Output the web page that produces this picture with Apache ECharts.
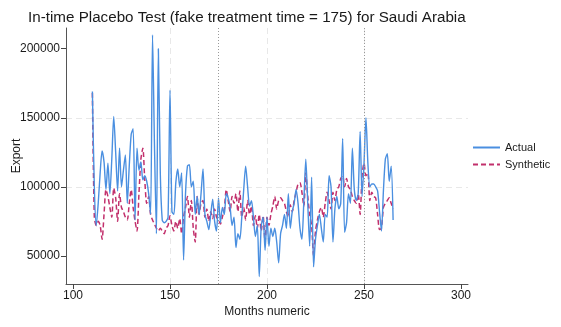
<!DOCTYPE html>
<html>
<head>
<meta charset="utf-8">
<script src="https://cdn.jsdelivr.net/npm/echarts@6/dist/echarts.min.js"></script>
<style>
  html, body { margin: 0; padding: 0; background: #ffffff; }
  #chart { width: 561px; height: 327px; }
</style>
</head>
<body>
<div id="chart"></div>
<script>
// Monthly exports, Saudi Arabia: observed vs. synthetic control (months 110-265)
const firstMonth = 110;

const actualExport = [
  169000, 100000, 72000, 88000, 110000, 126000, 118000, 98000, 117000, 95000,
  120000, 151000, 125000, 97000, 128000, 100000, 112000, 123000, 88000, 115000,
  138000, 142000, 76000, 128000, 112000, 118000, 105000, 108000, 104000, 95000,
  80000, 210000, 130000, 66000, 200000, 110000, 76000, 74000, 75000, 78000,
  170000, 82000, 80000, 103000, 113000, 100000, 110000, 47000, 95000, 115000,
  116000, 100000, 104000, 80000, 93000, 80000, 95000, 113000, 80000, 75000,
  69000, 80000, 91000, 75000, 68000, 92000, 74000, 85000, 80000, 95000,
  92000, 85000, 72000, 78000, 56000, 66000, 62000, 78000, 98000, 115000,
  100000, 86000, 90000, 78000, 64000, 72000, 35000, 71000, 78000, 54000,
  78000, 57000, 70000, 64000, 70000, 60000, 45000, 66000, 72000, 80000,
  70000, 95000, 70000, 82000, 88000, 98000, 88000, 70000, 62000, 90000,
  120000, 88000, 57000, 107000, 42000, 62000, 72000, 80000, 70000, 60000,
  80000, 78000, 108000, 100000, 60000, 84000, 93000, 84000, 88000, 135000,
  67000, 74000, 95000, 88000, 128000, 98000, 90000, 95000, 140000, 93000,
  117000, 150000, 117000, 100000, 102000, 102000, 100000, 97000, 82000, 68000,
  97000, 120000, 124000, 104000, 115000, 76000
];

const syntheticExport = [
  168000, 78000, 72000, 75000, 72000, 62000, 80000, 98000, 93000, 85000,
  78000, 99000, 92000, 75000, 95000, 85000, 82000, 78000, 76000, 88000,
  98000, 85000, 75000, 68000, 95000, 120000, 128000, 105000, 88000, 93000,
  80000, 76000, 73000, 70000, 68000, 70000, 68000, 66000, 70000, 72000,
  79000, 72000, 68000, 75000, 70000, 77000, 66000, 78000, 85000, 93000,
  78000, 90000, 70000, 60000, 93000, 80000, 88000, 90000, 78000, 84000,
  75000, 82000, 77000, 84000, 78000, 76000, 73000, 78000, 84000, 98000,
  90000, 82000, 93000, 88000, 95000, 82000, 97000, 78000, 85000, 76000,
  90000, 80000, 86000, 72000, 79000, 70000, 80000, 68000, 79000, 60000,
  78000, 72000, 80000, 86000, 93000, 84000, 90000, 92000, 90000, 88000,
  82000, 78000, 87000, 82000, 90000, 96000, 102000, 103000, 96000, 86000,
  110000, 93000, 80000, 72000, 50000, 68000, 76000, 82000, 85000, 78000,
  88000, 96000, 90000, 84000, 96000, 90000, 98000, 100000, 106000, 108000,
  100000, 106000, 100000, 98000, 93000, 90000, 88000, 95000, 80000, 108000,
  117000, 108000, 110000, 90000, 96000, 93000, 92000, 80000, 69000, 70000,
  85000, 88000, 90000, 92000, 88000, 84000
];

// Axis ticks and the two marked months (placebo time, actual treatment time)
const xTicks = [100, 150, 200, 250, 300];
const yTicks = [50000, 100000, 150000, 200000];
const markedMonths = [175, 250];

const months = actualExport.map((_, i) => firstMonth + i);
const toPairs = (vals) => vals.map((v, i) => [months[i], v]);

const FONT = 'Liberation Sans, Arial, sans-serif';
const chart = echarts.init(document.getElementById('chart'), null, { renderer: 'canvas' });

chart.setOption({
  backgroundColor: '#ffffff',
  animation: false,
  title: {
    text: 'In-time Placebo Test (fake treatment time = 175) for Saudi Arabia',
    left: 23,
    top: 5,
    textStyle: { fontFamily: FONT, fontSize: 15.2, fontWeight: 'normal', color: '#1a1a1a' }
  },
  legend: {
    orient: 'vertical',
    left: 467,
    top: 137,
    itemWidth: 27,
    itemHeight: 10,
    itemGap: 6,
    itemStyle: { opacity: 0 },
    textStyle: { fontFamily: FONT, fontSize: 11, color: '#1a1a1a' },
    data: ['Actual', 'Synthetic']
  },
  grid: { left: 66, right: 93, top: 28, bottom: 43, outerBoundsMode: 'none', containLabel: false },
  xAxis: {
    type: 'value',
    min: 96.4,
    max: 303.6,
    minInterval: 50,
    maxInterval: 50,
    name: 'Months numeric',
    nameLocation: 'middle',
    nameGap: 22,
    nameMoveOverlap: false,
    nameTextStyle: { fontFamily: FONT, fontSize: 12, color: '#1a1a1a' },
    axisLine: { show: true, lineStyle: { color: '#555', width: 1 } },
    axisTick: { show: true, length: 5, customValues: xTicks, lineStyle: { color: '#444' } },
    axisLabel: {
      customValues: xTicks,
      formatter: (v) => String(v),
      fontFamily: FONT, fontSize: 12, color: '#1a1a1a', margin: 6
    },
    splitLine: {
      show: true, showMinLine: false, showMaxLine: false,
      lineStyle: { color: '#e8e8e8', type: [6, 4], width: 1 }
    }
  },
  yAxis: {
    type: 'value',
    min: 29600,
    max: 215000,
    minInterval: 50000,
    maxInterval: 50000,
    name: 'Export',
    nameLocation: 'middle',
    nameGap: 43,
    nameMoveOverlap: false,
    nameTextStyle: { fontFamily: FONT, fontSize: 12, color: '#1a1a1a' },
    axisLine: { show: true, lineStyle: { color: '#555', width: 1 } },
    axisTick: { show: true, length: 5, customValues: yTicks, lineStyle: { color: '#444' } },
    axisLabel: {
      customValues: yTicks,
      formatter: (v) => String(v),
      fontFamily: FONT, fontSize: 12, color: '#1a1a1a', margin: 6
    },
    splitLine: {
      show: true, showMinLine: false, showMaxLine: false,
      lineStyle: { color: '#e8e8e8', type: [6, 4], width: 1 }
    }
  },
  series: [
    {
      name: 'Actual',
      type: 'line',
      data: toPairs(actualExport),
      symbol: 'none',
      smooth: 0.25,
      lineStyle: { color: '#4a8fe0', width: 1.4 },
      itemStyle: { color: '#4a8fe0' },
      z: 3,
      markLine: {
        silent: true,
        symbol: 'none',
        label: { show: false },
        lineStyle: { color: '#9a9a9a', type: [1, 2], width: 1 },
        data: markedMonths.map((m) => ({ xAxis: m }))
      }
    },
    {
      name: 'Synthetic',
      type: 'line',
      data: toPairs(syntheticExport),
      symbol: 'none',
      smooth: 0.25,
      lineStyle: { color: '#c2306c', width: 1.5, type: [5, 3] },
      itemStyle: { color: '#c2306c' },
      z: 2
    }
  ]
});
</script>
</body>
</html>
